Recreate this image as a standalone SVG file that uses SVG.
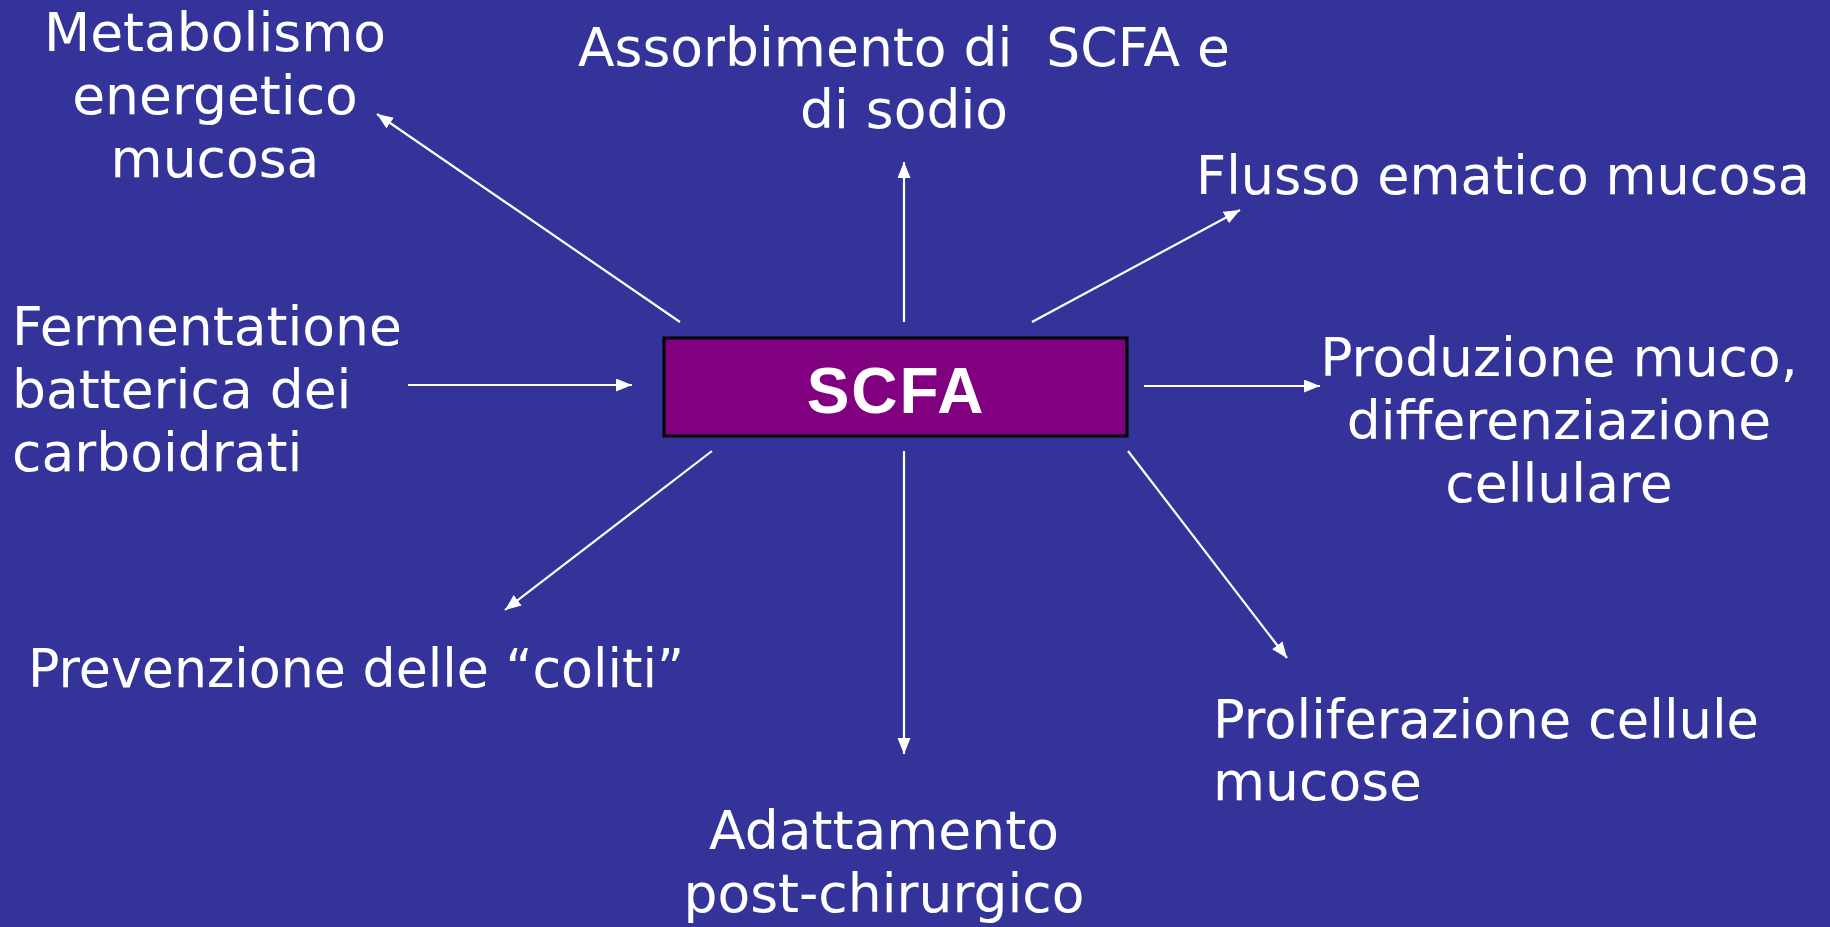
<svg xmlns="http://www.w3.org/2000/svg" width="1830" height="927" viewBox="0 0 1830 927">
<defs>
<style>
.t{font-family:"DejaVu Sans","Liberation Sans",sans-serif;font-size:53.5px;fill:#ffffff;white-space:pre}
.c{text-anchor:middle}
.conn line{stroke:#ffffff;stroke-width:2.2;fill:none}
</style>
<marker id="ah" markerUnits="userSpaceOnUse" markerWidth="18" markerHeight="14" refX="16" refY="6.5" orient="auto">
<path d="M0,0 L16,6.5 L0,13 z" fill="#ffffff"/>
</marker>
</defs>
<rect width="1830" height="927" fill="#333399"/>
<g id="connectors" class="conn">
<line x1="680" y1="322" x2="377" y2="114" marker-end="url(#ah)"/>
<line x1="904" y1="322" x2="904" y2="162" marker-end="url(#ah)"/>
<line x1="1032" y1="322" x2="1240" y2="210" marker-end="url(#ah)"/>
<line x1="408" y1="385" x2="632" y2="385" marker-end="url(#ah)"/>
<line x1="1144" y1="386" x2="1320" y2="386" marker-end="url(#ah)"/>
<line x1="712" y1="451" x2="505" y2="610" marker-end="url(#ah)"/>
<line x1="904" y1="451" x2="904" y2="754" marker-end="url(#ah)"/>
<line x1="1128" y1="451" x2="1287" y2="658" marker-end="url(#ah)"/>
</g>
<g id="scfa">
<rect x="664" y="338" width="463" height="98" fill="#800080" stroke="#000000" stroke-width="3"/>
<text x="896" y="413" font-family="Liberation Sans, Arial, sans-serif" font-weight="bold" font-size="64" fill="#ffffff" text-anchor="middle" letter-spacing="2">SCFA</text>
</g>
<g id="metabolismo">
<text class="t c" x="215" y="51">Metabolismo</text>
<text class="t c" x="215" y="114">energetico</text>
<text class="t c" x="215" y="177">mucosa</text>
</g>
<g id="assorbimento">
<text class="t c" x="904" y="66">Assorbimento di  SCFA e</text>
<text class="t c" x="904" y="128">di sodio</text>
</g>
<g id="flusso">
<text class="t" x="1196" y="194" textLength="614" lengthAdjust="spacingAndGlyphs">Flusso ematico mucosa</text>
</g>
<g id="fermentatione">
<text class="t" x="12" y="345">Fermentatione</text>
<text class="t" x="12" y="408">batterica dei</text>
<text class="t" x="12" y="471">carboidrati</text>
</g>
<g id="produzione">
<text class="t c" x="1559" y="376">Produzione muco,</text>
<text class="t c" x="1559" y="439">differenziazione</text>
<text class="t c" x="1559" y="502">cellulare</text>
</g>
<g id="prevenzione">
<text class="t" x="28" y="687" textLength="656" lengthAdjust="spacingAndGlyphs">Prevenzione delle “coliti”</text>
</g>
<g id="proliferazione">
<text class="t" x="1213" y="738" textLength="546" lengthAdjust="spacingAndGlyphs">Proliferazione cellule</text>
<text class="t" x="1213" y="800">mucose</text>
</g>
<g id="adattamento">
<text class="t c" x="884" y="849">Adattamento</text>
<text class="t c" x="884" y="912">post-chirurgico</text>
</g>
</svg>
